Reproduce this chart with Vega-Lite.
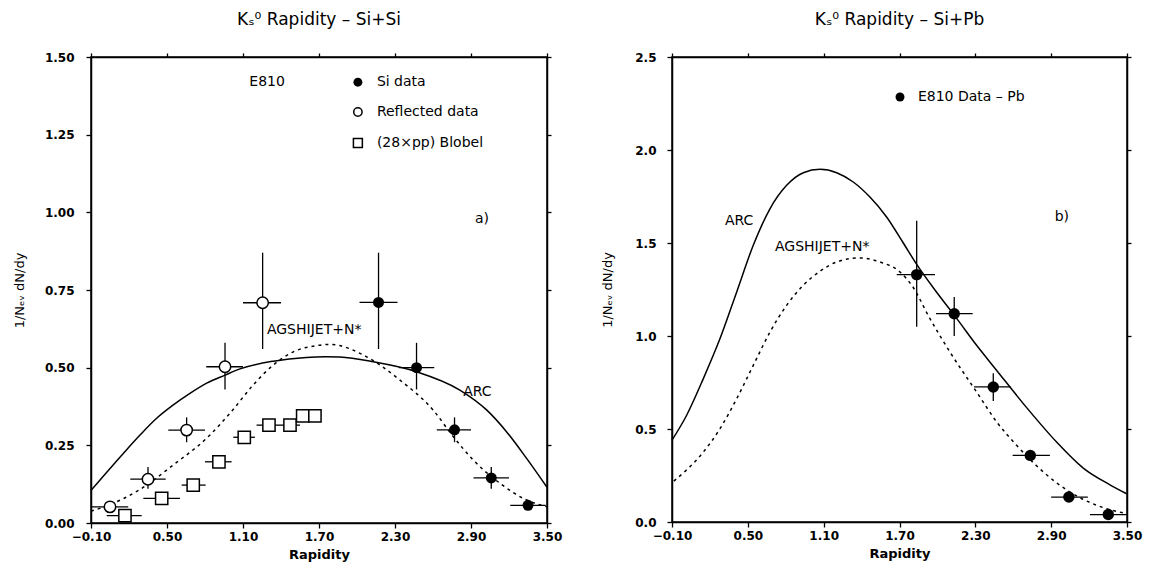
{
  "$schema": "https://vega.github.io/schema/vega-lite/v6.json",
  "background": "white",
  "padding": {"left": 12, "top": 10, "right": 0, "bottom": 0},
  "config": {
    "font": "DejaVu Sans",
    "view": {"stroke": "black", "strokeWidth": 1.5},
    "axis": {"domainColor": "black", "domainWidth": 1.5, "tickColor": "black", "tickWidth": 1.3, "grid": false, "labelColor": "black", "titleColor": "black", "labelFont": "DejaVu Sans", "titleFont": "DejaVu Sans", "labelFontSize": 12, "labelFontWeight": "bold", "titleFontSize": 13, "titleFontWeight": "bold", "tickSize": 5, "labelFlush": false, "labelOverlap": false},
    "title": {"fontSize": 17, "fontWeight": "normal", "color": "black", "font": "DejaVu Sans", "offset": 22},
    "text": {"font": "DejaVu Sans", "fontSize": 14, "color": "black"},
    "concat": {"spacing": 37}
  },
  "datasets": {
    "arcA": [
      {"x": -0.10, "y": 0.105}, {"x": 0.155, "y": 0.224}, {"x": 0.287, "y": 0.283}, {"x": 0.418, "y": 0.337},
      {"x": 0.55, "y": 0.38}, {"x": 0.681, "y": 0.417}, {"x": 0.813, "y": 0.45}, {"x": 0.958, "y": 0.476},
      {"x": 1.076, "y": 0.496}, {"x": 1.34, "y": 0.521}, {"x": 1.60, "y": 0.533}, {"x": 1.75, "y": 0.535},
      {"x": 1.865, "y": 0.534}, {"x": 2.128, "y": 0.519}, {"x": 2.47, "y": 0.487}, {"x": 2.812, "y": 0.428},
      {"x": 3.023, "y": 0.364}, {"x": 3.18, "y": 0.294}, {"x": 3.339, "y": 0.208}, {"x": 3.50, "y": 0.115}
    ],
    "agsA": [
      {"x": -0.10, "y": 0.038}, {"x": 0.024, "y": 0.055}, {"x": 0.287, "y": 0.108}, {"x": 0.55, "y": 0.187},
      {"x": 0.813, "y": 0.273}, {"x": 0.997, "y": 0.353}, {"x": 1.18, "y": 0.444}, {"x": 1.34, "y": 0.509},
      {"x": 1.497, "y": 0.551}, {"x": 1.68, "y": 0.571}, {"x": 1.786, "y": 0.575}, {"x": 2.076, "y": 0.535},
      {"x": 2.339, "y": 0.46}, {"x": 2.6, "y": 0.364}, {"x": 2.76, "y": 0.278}, {"x": 2.917, "y": 0.203},
      {"x": 3.128, "y": 0.128}, {"x": 3.339, "y": 0.074}, {"x": 3.50, "y": 0.052}
    ],
    "siA": [
      {"x": 2.17, "y": 0.71, "xlo": 2.02, "xhi": 2.32, "ylo": 0.56, "yhi": 0.87},
      {"x": 2.47, "y": 0.50, "xlo": 2.33, "xhi": 2.61, "ylo": 0.43, "yhi": 0.58},
      {"x": 2.77, "y": 0.30, "xlo": 2.63, "xhi": 2.90, "ylo": 0.26, "yhi": 0.34},
      {"x": 3.06, "y": 0.145, "xlo": 2.92, "xhi": 3.20, "ylo": 0.11, "yhi": 0.18},
      {"x": 3.35, "y": 0.057, "xlo": 3.21, "xhi": 3.49, "ylo": 0.045, "yhi": 0.07}
    ],
    "reflA": [
      {"x": 0.05, "y": 0.052, "xlo": -0.095, "xhi": 0.194, "ylo": 0.045, "yhi": 0.06},
      {"x": 0.35, "y": 0.141, "xlo": 0.21, "xhi": 0.49, "ylo": 0.11, "yhi": 0.18},
      {"x": 0.655, "y": 0.299, "xlo": 0.51, "xhi": 0.80, "ylo": 0.26, "yhi": 0.34},
      {"x": 0.958, "y": 0.503, "xlo": 0.81, "xhi": 1.10, "ylo": 0.43, "yhi": 0.58},
      {"x": 1.255, "y": 0.709, "xlo": 1.10, "xhi": 1.40, "ylo": 0.56, "yhi": 0.87}
    ],
    "blobA": [
      {"x": 0.168, "y": 0.024, "xlo": 0.024, "xhi": 0.30},
      {"x": 0.458, "y": 0.079, "xlo": 0.313, "xhi": 0.602},
      {"x": 0.707, "y": 0.122, "xlo": 0.616, "xhi": 0.805},
      {"x": 0.91, "y": 0.197, "xlo": 0.80, "xhi": 1.01},
      {"x": 1.11, "y": 0.276, "xlo": 1.023, "xhi": 1.194},
      {"x": 1.305, "y": 0.315, "xlo": 1.207, "xhi": 1.40},
      {"x": 1.471, "y": 0.315, "xlo": 1.40, "xhi": 1.55},
      {"x": 1.571, "y": 0.345, "xlo": 1.53, "xhi": 1.62},
      {"x": 1.668, "y": 0.345, "xlo": 1.62, "xhi": 1.71}
    ],
    "textCenterA": [
      {"x": 1.29, "y": 1.419, "label": "E810"},
      {"x": 2.986, "y": 0.98, "label": "a)"},
      {"x": 2.95, "y": 0.423, "label": "ARC"}
    ],
    "textLeftA": [
      {"x": 2.157, "y": 1.419, "label": "Si data"},
      {"x": 2.157, "y": 1.323, "label": "Reflected data"},
      {"x": 2.157, "y": 1.223, "label": "(28×pp) Blobel"},
      {"x": 1.289, "y": 0.62, "label": "AGSHIJET+N*"}
    ],
    "legFilledA": [{"x": 2.007, "y": 1.419}],
    "legOpenA": [{"x": 2.007, "y": 1.323}],
    "legSquareA": [{"x": 2.007, "y": 1.223}],
    "arcB": [
      {"x": -0.10, "y": 0.44}, {"x": 0.016, "y": 0.574}, {"x": 0.148, "y": 0.771}, {"x": 0.28, "y": 0.986},
      {"x": 0.412, "y": 1.237}, {"x": 0.543, "y": 1.488}, {"x": 0.675, "y": 1.684}, {"x": 0.807, "y": 1.81},
      {"x": 0.939, "y": 1.878}, {"x": 1.071, "y": 1.896}, {"x": 1.203, "y": 1.878}, {"x": 1.334, "y": 1.828},
      {"x": 1.466, "y": 1.747}, {"x": 1.598, "y": 1.64}, {"x": 1.73, "y": 1.50}, {"x": 1.836, "y": 1.385},
      {"x": 1.994, "y": 1.235}, {"x": 2.152, "y": 1.095}, {"x": 2.31, "y": 0.95}, {"x": 2.469, "y": 0.815},
      {"x": 2.706, "y": 0.615}, {"x": 2.943, "y": 0.43}, {"x": 3.154, "y": 0.29}, {"x": 3.365, "y": 0.20},
      {"x": 3.497, "y": 0.152}
    ],
    "agsB": [
      {"x": -0.085, "y": 0.22}, {"x": 0.148, "y": 0.376}, {"x": 0.28, "y": 0.502}, {"x": 0.412, "y": 0.663},
      {"x": 0.543, "y": 0.842}, {"x": 0.675, "y": 1.021}, {"x": 0.807, "y": 1.165}, {"x": 0.939, "y": 1.273},
      {"x": 1.071, "y": 1.348}, {"x": 1.203, "y": 1.398}, {"x": 1.387, "y": 1.42}, {"x": 1.545, "y": 1.398},
      {"x": 1.704, "y": 1.344}, {"x": 1.80, "y": 1.27}, {"x": 1.941, "y": 1.093}, {"x": 2.099, "y": 0.914},
      {"x": 2.31, "y": 0.699}, {"x": 2.469, "y": 0.538}, {"x": 2.627, "y": 0.412}, {"x": 2.838, "y": 0.269},
      {"x": 3.049, "y": 0.161}, {"x": 3.26, "y": 0.09}, {"x": 3.497, "y": 0.045}
    ],
    "pbB": [
      {"x": 1.836, "y": 1.33, "xlo": 1.678, "xhi": 1.981, "ylo": 1.05, "yhi": 1.62},
      {"x": 2.133, "y": 1.12, "xlo": 1.989, "xhi": 2.279, "ylo": 1.0, "yhi": 1.21},
      {"x": 2.442, "y": 0.726, "xlo": 2.29, "xhi": 2.58, "ylo": 0.65, "yhi": 0.80},
      {"x": 2.735, "y": 0.358, "xlo": 2.595, "xhi": 2.89, "ylo": 0.358, "yhi": 0.358},
      {"x": 3.04, "y": 0.134, "xlo": 2.90, "xhi": 3.19, "ylo": 0.134, "yhi": 0.134},
      {"x": 3.352, "y": 0.04, "xlo": 3.207, "xhi": 3.497, "ylo": 0.04, "yhi": 0.04}
    ],
    "textCenterB": [
      {"x": 2.985, "y": 1.64, "label": "b)"}
    ],
    "textLeftB": [
      {"x": 1.846, "y": 2.285, "label": "E810 Data – Pb"},
      {"x": 0.319, "y": 1.62, "label": "ARC"},
      {"x": 0.715, "y": 1.478, "label": "AGSHIJET+N*"}
    ],
    "legFilledB": [{"x": 1.704, "y": 2.285}]
  },
  "hconcat": [
    {
      "title": {"text": "Kₛ⁰ Rapidity – Si+Si"},
      "width": 456,
      "height": 466,
      "layer": [
        {
          "data": {"name": "arcA"},
          "mark": {"type": "line", "color": "black", "strokeWidth": 1.5, "interpolate": "monotone"},
          "encoding": {
            "x": {"field": "x", "type": "quantitative", "scale": {"domain": [-0.1, 3.5], "nice": false, "zero": false},
                  "axis": {"values": [-0.1, 0.5, 1.1, 1.7, 2.3, 2.9, 3.5], "format": ".2f", "title": "Rapidity", "labelPadding": 3, "titlePadding": 6}},
            "y": {"field": "y", "type": "quantitative", "scale": {"domain": [0, 1.5], "nice": false, "zero": false},
                  "axis": {"values": [0, 0.25, 0.5, 0.75, 1.0, 1.25, 1.5], "format": ".2f", "title": "1/Nₑᵥ dN/dy", "titleFontWeight": "normal", "labelPadding": 12, "titlePadding": 18}}
          }
        },
        {
          "data": {"name": "agsA"},
          "mark": {"type": "line", "color": "black", "strokeWidth": 1.5, "strokeDash": [3, 4], "interpolate": "monotone"},
          "encoding": {
            "x": {"field": "x", "type": "quantitative", "axis": {"orient": "top", "values": [-0.1, 0.5, 1.1, 1.7, 2.3, 2.9, 3.5], "labels": false, "title": null, "tickSize": 4}},
            "y": {"field": "y", "type": "quantitative", "axis": {"orient": "right", "values": [0, 0.25, 0.5, 0.75, 1.0, 1.25, 1.5], "labels": false, "title": null, "tickSize": 4}}
          }
        },
        {
          "data": {"name": "siA"},
          "mark": {"type": "rule", "color": "black", "strokeWidth": 1.3},
          "encoding": {"x": {"field": "xlo", "type": "quantitative", "axis": null}, "x2": {"field": "xhi"}, "y": {"field": "y", "type": "quantitative", "axis": null}}
        },
        {
          "data": {"name": "siA"},
          "mark": {"type": "rule", "color": "black", "strokeWidth": 1.3},
          "encoding": {"x": {"field": "x", "type": "quantitative", "axis": null}, "y": {"field": "ylo", "type": "quantitative", "axis": null}, "y2": {"field": "yhi"}}
        },
        {
          "data": {"name": "reflA"},
          "mark": {"type": "rule", "color": "black", "strokeWidth": 1.3},
          "encoding": {"x": {"field": "xlo", "type": "quantitative", "axis": null}, "x2": {"field": "xhi"}, "y": {"field": "y", "type": "quantitative", "axis": null}}
        },
        {
          "data": {"name": "reflA"},
          "mark": {"type": "rule", "color": "black", "strokeWidth": 1.3},
          "encoding": {"x": {"field": "x", "type": "quantitative", "axis": null}, "y": {"field": "ylo", "type": "quantitative", "axis": null}, "y2": {"field": "yhi"}}
        },
        {
          "data": {"name": "blobA"},
          "mark": {"type": "rule", "color": "black", "strokeWidth": 1.3},
          "encoding": {"x": {"field": "xlo", "type": "quantitative", "axis": null}, "x2": {"field": "xhi"}, "y": {"field": "y", "type": "quantitative", "axis": null}}
        },
        {
          "data": {"name": "siA"},
          "mark": {"type": "point", "shape": "circle", "filled": true, "color": "black", "size": 120, "opacity": 1},
          "encoding": {"x": {"field": "x", "type": "quantitative", "axis": null}, "y": {"field": "y", "type": "quantitative", "axis": null}}
        },
        {
          "data": {"name": "reflA"},
          "mark": {"type": "point", "shape": "circle", "filled": true, "fill": "white", "stroke": "black", "strokeWidth": 1.5, "size": 130, "opacity": 1},
          "encoding": {"x": {"field": "x", "type": "quantitative", "axis": null}, "y": {"field": "y", "type": "quantitative", "axis": null}}
        },
        {
          "data": {"name": "blobA"},
          "mark": {"type": "point", "shape": "square", "filled": true, "fill": "white", "stroke": "black", "strokeWidth": 1.5, "size": 150, "opacity": 1},
          "encoding": {"x": {"field": "x", "type": "quantitative", "axis": null}, "y": {"field": "y", "type": "quantitative", "axis": null}}
        },
        {
          "data": {"name": "legFilledA"},
          "mark": {"type": "point", "shape": "circle", "filled": true, "color": "black", "size": 80, "opacity": 1},
          "encoding": {"x": {"field": "x", "type": "quantitative", "axis": null}, "y": {"field": "y", "type": "quantitative", "axis": null}}
        },
        {
          "data": {"name": "legOpenA"},
          "mark": {"type": "point", "shape": "circle", "filled": true, "fill": "white", "stroke": "black", "strokeWidth": 1.5, "size": 70, "opacity": 1},
          "encoding": {"x": {"field": "x", "type": "quantitative", "axis": null}, "y": {"field": "y", "type": "quantitative", "axis": null}}
        },
        {
          "data": {"name": "legSquareA"},
          "mark": {"type": "point", "shape": "square", "filled": true, "fill": "white", "stroke": "black", "strokeWidth": 1.5, "size": 80, "opacity": 1},
          "encoding": {"x": {"field": "x", "type": "quantitative", "axis": null}, "y": {"field": "y", "type": "quantitative", "axis": null}}
        },
        {
          "data": {"name": "textCenterA"},
          "mark": {"type": "text", "align": "center", "baseline": "middle"},
          "encoding": {"x": {"field": "x", "type": "quantitative", "axis": null}, "y": {"field": "y", "type": "quantitative", "axis": null}, "text": {"field": "label"}}
        },
        {
          "data": {"name": "textLeftA"},
          "mark": {"type": "text", "align": "left", "baseline": "middle"},
          "encoding": {"x": {"field": "x", "type": "quantitative", "axis": null}, "y": {"field": "y", "type": "quantitative", "axis": null}, "text": {"field": "label"}}
        }
      ],
      "resolve": {"axis": {"x": "independent", "y": "independent"}}
    },
    {
      "title": {"text": "Kₛ⁰ Rapidity – Si+Pb"},
      "width": 455,
      "height": 465,
      "layer": [
        {
          "data": {"name": "arcB"},
          "mark": {"type": "line", "color": "black", "strokeWidth": 1.5, "interpolate": "monotone"},
          "encoding": {
            "x": {"field": "x", "type": "quantitative", "scale": {"domain": [-0.1, 3.5], "nice": false, "zero": false},
                  "axis": {"values": [-0.1, 0.5, 1.1, 1.7, 2.3, 2.9, 3.5], "format": ".2f", "title": "Rapidity", "labelPadding": 3, "titlePadding": 6}},
            "y": {"field": "y", "type": "quantitative", "scale": {"domain": [0, 2.5], "nice": false, "zero": false},
                  "axis": {"values": [0, 0.5, 1.0, 1.5, 2.0, 2.5], "format": ".1f", "title": "1/Nₑᵥ dN/dy", "titleFontWeight": "normal", "labelPadding": 11, "titlePadding": 20}}
          }
        },
        {
          "data": {"name": "agsB"},
          "mark": {"type": "line", "color": "black", "strokeWidth": 1.5, "strokeDash": [3, 4], "interpolate": "monotone"},
          "encoding": {
            "x": {"field": "x", "type": "quantitative", "axis": {"orient": "top", "values": [-0.1, 0.5, 1.1, 1.7, 2.3, 2.9, 3.5], "labels": false, "title": null, "tickSize": 4}},
            "y": {"field": "y", "type": "quantitative", "axis": {"orient": "right", "values": [0, 0.5, 1.0, 1.5, 2.0, 2.5], "labels": false, "title": null, "tickSize": 4}}
          }
        },
        {
          "data": {"name": "pbB"},
          "mark": {"type": "rule", "color": "black", "strokeWidth": 1.3},
          "encoding": {"x": {"field": "xlo", "type": "quantitative", "axis": null}, "x2": {"field": "xhi"}, "y": {"field": "y", "type": "quantitative", "axis": null}}
        },
        {
          "data": {"name": "pbB"},
          "mark": {"type": "rule", "color": "black", "strokeWidth": 1.3},
          "encoding": {"x": {"field": "x", "type": "quantitative", "axis": null}, "y": {"field": "ylo", "type": "quantitative", "axis": null}, "y2": {"field": "yhi"}}
        },
        {
          "data": {"name": "pbB"},
          "mark": {"type": "point", "shape": "circle", "filled": true, "color": "black", "size": 130, "opacity": 1},
          "encoding": {"x": {"field": "x", "type": "quantitative", "axis": null}, "y": {"field": "y", "type": "quantitative", "axis": null}}
        },
        {
          "data": {"name": "legFilledB"},
          "mark": {"type": "point", "shape": "circle", "filled": true, "color": "black", "size": 80, "opacity": 1},
          "encoding": {"x": {"field": "x", "type": "quantitative", "axis": null}, "y": {"field": "y", "type": "quantitative", "axis": null}}
        },
        {
          "data": {"name": "textCenterB"},
          "mark": {"type": "text", "align": "center", "baseline": "middle"},
          "encoding": {"x": {"field": "x", "type": "quantitative", "axis": null}, "y": {"field": "y", "type": "quantitative", "axis": null}, "text": {"field": "label"}}
        },
        {
          "data": {"name": "textLeftB"},
          "mark": {"type": "text", "align": "left", "baseline": "middle"},
          "encoding": {"x": {"field": "x", "type": "quantitative", "axis": null}, "y": {"field": "y", "type": "quantitative", "axis": null}, "text": {"field": "label"}}
        }
      ],
      "resolve": {"axis": {"x": "independent", "y": "independent"}}
    }
  ]
}
